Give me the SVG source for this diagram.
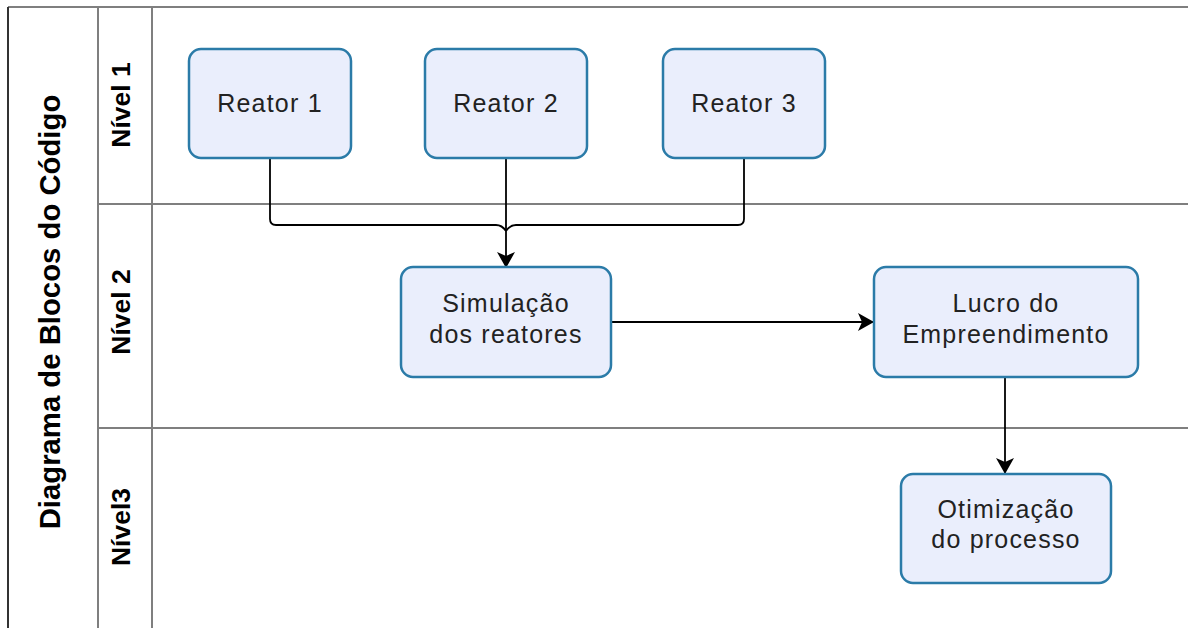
<svg xmlns="http://www.w3.org/2000/svg" width="1188" height="628" viewBox="0 0 1188 628">
<defs>
<marker id="arr" markerWidth="16" markerHeight="18" refX="15" refY="9" orient="auto" markerUnits="userSpaceOnUse">
<path d="M0,0 L16,9 L0,18 L4,9 Z" fill="#000"/>
</marker>
<style>
.lane{stroke:#7f7f7f;stroke-width:2;fill:none}
.node rect{fill:#eaeefc;stroke:#2b7ba8;stroke-width:2.5}
.node text{font-family:"Liberation Sans",Arial,sans-serif;font-size:25px;letter-spacing:1.2px;fill:#222;text-anchor:middle}
.hdr{font-family:"Liberation Sans",Arial,sans-serif;font-weight:bold;fill:#000;text-anchor:middle}
.con{stroke:#000;stroke-width:1.8;fill:none}
</style>
</defs>
<rect width="1188" height="628" fill="#fff"/>
<g id="pool">
<line x1="8" y1="7" x2="1188" y2="7" class="lane"/>
<line x1="8" y1="7" x2="8" y2="628" stroke="#333" stroke-width="2"/>
<line x1="98" y1="7" x2="98" y2="628" class="lane"/>
<line x1="152" y1="7" x2="152" y2="628" class="lane"/>
<line x1="98" y1="204" x2="1188" y2="204" class="lane"/>
<line x1="98" y1="428" x2="1188" y2="428" class="lane"/>
<text class="hdr" font-size="29.3" transform="translate(60,312) rotate(-90)">Diagrama de Blocos do Código</text>
<text class="hdr" font-size="26.5" transform="translate(130,105) rotate(-90)">Nível 1</text>
<text class="hdr" font-size="26.5" transform="translate(130,312) rotate(-90)">Nível 2</text>
<text class="hdr" font-size="26.5" transform="translate(130,527) rotate(-90)">Nível3</text>
</g>
<g id="connectors">
<path class="con" d="M270,158 V219 Q270,225 276,225 H496 Q502,225 506,231"/>
<path class="con" d="M744,158 V219 Q744,225 738,225 H516 Q510,225 506,231"/>
<path class="con" d="M506,158 V267" marker-end="url(#arr)"/>
<path class="con" d="M611,322 H873" marker-end="url(#arr)"/>
<path class="con" d="M1005,377 V473" marker-end="url(#arr)"/>
</g>
<g id="reator1" class="node"><rect x="189" y="49" width="162" height="109" rx="12"/><text x="270" y="112">Reator 1</text></g>
<g id="reator2" class="node"><rect x="425" y="49" width="162" height="109" rx="12"/><text x="506" y="112">Reator 2</text></g>
<g id="reator3" class="node"><rect x="663" y="49" width="162" height="109" rx="12"/><text x="744" y="112">Reator 3</text></g>
<g id="simulacao" class="node"><rect x="401" y="267" width="210" height="110" rx="12"/><text x="506" y="312">Simulação</text><text x="506" y="343">dos reatores</text></g>
<g id="lucro" class="node"><rect x="874" y="267" width="264" height="110" rx="12"/><text x="1006" y="312">Lucro do</text><text x="1006" y="343">Empreendimento</text></g>
<g id="otimizacao" class="node"><rect x="901" y="474" width="210" height="109" rx="12"/><text x="1006" y="518">Otimização</text><text x="1006" y="548">do processo</text></g>
</svg>
